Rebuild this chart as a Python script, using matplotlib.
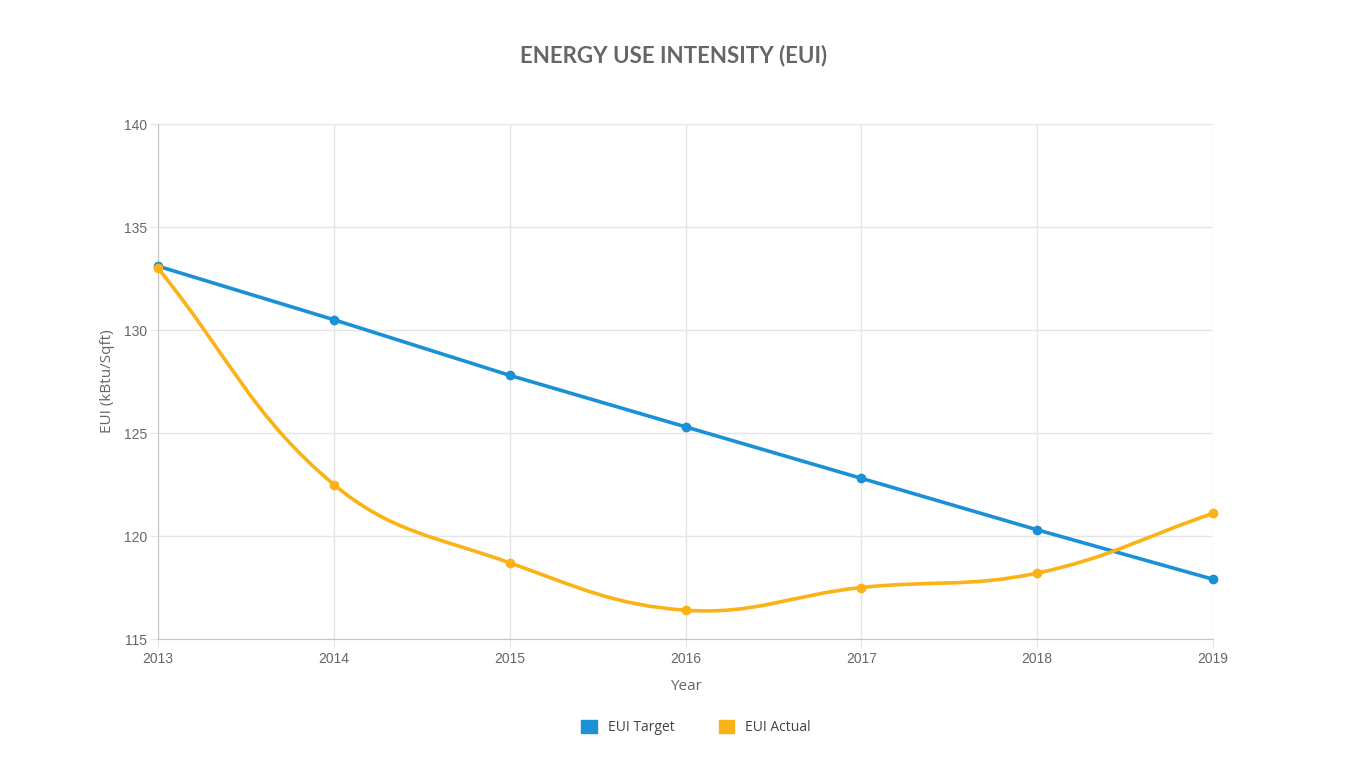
import numpy as np
import matplotlib
matplotlib.use("Agg")
import matplotlib.pyplot as plt
from matplotlib.path import Path
from matplotlib.patches import PathPatch, Patch

years = [2013, 2014, 2015, 2016, 2017, 2018, 2019]
eui_target = [133.1, 130.5, 127.8, 125.3, 122.8, 120.3, 117.9]
eui_actual = [133.0, 122.5, 118.7, 116.4, 117.5, 118.2, 121.1]

BLUE = "#1a91d6"
ORANGE = "#fbb217"
GRID = "#e5e5e5"
TXT = "#666666"


def spline_path(xs, ys, sx, sy, t=0.4):
    # chart.js style bezier, distances in pixel space
    px = np.array(xs, float) * sx
    py = np.array(ys, float) * sy
    n = len(px)
    cp_prev = []
    cp_next = []
    for i in range(n):
        a = max(i - 1, 0)
        b = min(i + 1, n - 1)
        d01 = np.hypot(px[i] - px[a], py[i] - py[a])
        d12 = np.hypot(px[b] - px[i], py[b] - py[i])
        s01 = d01 / (d01 + d12) if d01 + d12 else 0
        s12 = d12 / (d01 + d12) if d01 + d12 else 0
        fa = t * s01
        fb = t * s12
        dx = px[b] - px[a]
        dy = py[b] - py[a]
        cp_prev.append((px[i] - fa * dx, py[i] - fa * dy))
        cp_next.append((px[i] + fb * dx, py[i] + fb * dy))
    verts = [(px[0] / sx, py[0] / sy)]
    codes = [Path.MOVETO]
    for i in range(1, n):
        verts += [(cp_next[i - 1][0] / sx, cp_next[i - 1][1] / sy),
                  (cp_prev[i][0] / sx, cp_prev[i][1] / sy),
                  (px[i] / sx, py[i] / sy)]
        codes += [Path.CURVE4] * 3
    return Path(verts, codes)


fig = plt.figure(figsize=(13.48, 7.65), dpi=100)
ax = fig.add_axes([0.1172, 0.1647, 0.7827, 0.6732])

ax.set_xlim(2013, 2019)
ax.set_ylim(115, 140)

# pixel scale factors for the spline
sx = 1055 / 6.0
sy = 515 / 25.0

ax.plot(years, eui_target, color=BLUE, lw=2.6, zorder=3)
ax.scatter(years, eui_target, s=36, color=BLUE, zorder=4, clip_on=False)

ax.add_patch(PathPatch(spline_path(years, eui_actual, sx, sy), fill=False,
                       edgecolor=ORANGE, lw=2.6, zorder=3))
ax.scatter(years, eui_actual, s=36, color=ORANGE, zorder=4, clip_on=False)

ax.set_xticks(years)
ax.set_yticks([115, 120, 125, 130, 135, 140])
ax.grid(True, color=GRID, lw=1)
ax.set_axisbelow(True)
for s in ["top", "right"]:
    ax.spines[s].set_visible(False)
for s in ["left", "bottom"]:
    ax.spines[s].set_color("#c4c4c4")
ax.tick_params(colors=GRID, labelcolor=TXT, labelsize=10, length=6, pad=3)
ax.tick_params(axis="y", pad=2)
for lbl in ax.get_xticklabels() + ax.get_yticklabels():
    lbl.set_family(["Liberation Sans", "DejaVu Sans"])

ax.set_xlabel("Year", color=TXT, fontsize=11, family="Open Sans", labelpad=10)
ax.set_ylabel("EUI (kBtu/Sqft)", color=TXT, fontsize=11, family="Open Sans", labelpad=6)

fig.text(0.5, 0.927, "ENERGY USE INTENSITY (EUI)", ha="center", va="center",
         fontsize=16, fontweight="bold", color=TXT, family="Lato")

handles = [Patch(color=BLUE, label="EUI Target"), Patch(color=ORANGE, label="EUI Actual")]
leg = fig.legend(handles=handles, loc="center", bbox_to_anchor=(0.5165, 0.049), ncol=2,
                 frameon=False, handlelength=1.1, handleheight=1.1, columnspacing=3.2,
                 handletextpad=0.8, prop={"family": "Open Sans", "size": 10})
for t in leg.get_texts():
    t.set_color("#444444")

fig.savefig("out.png", dpi=100, facecolor="white")
